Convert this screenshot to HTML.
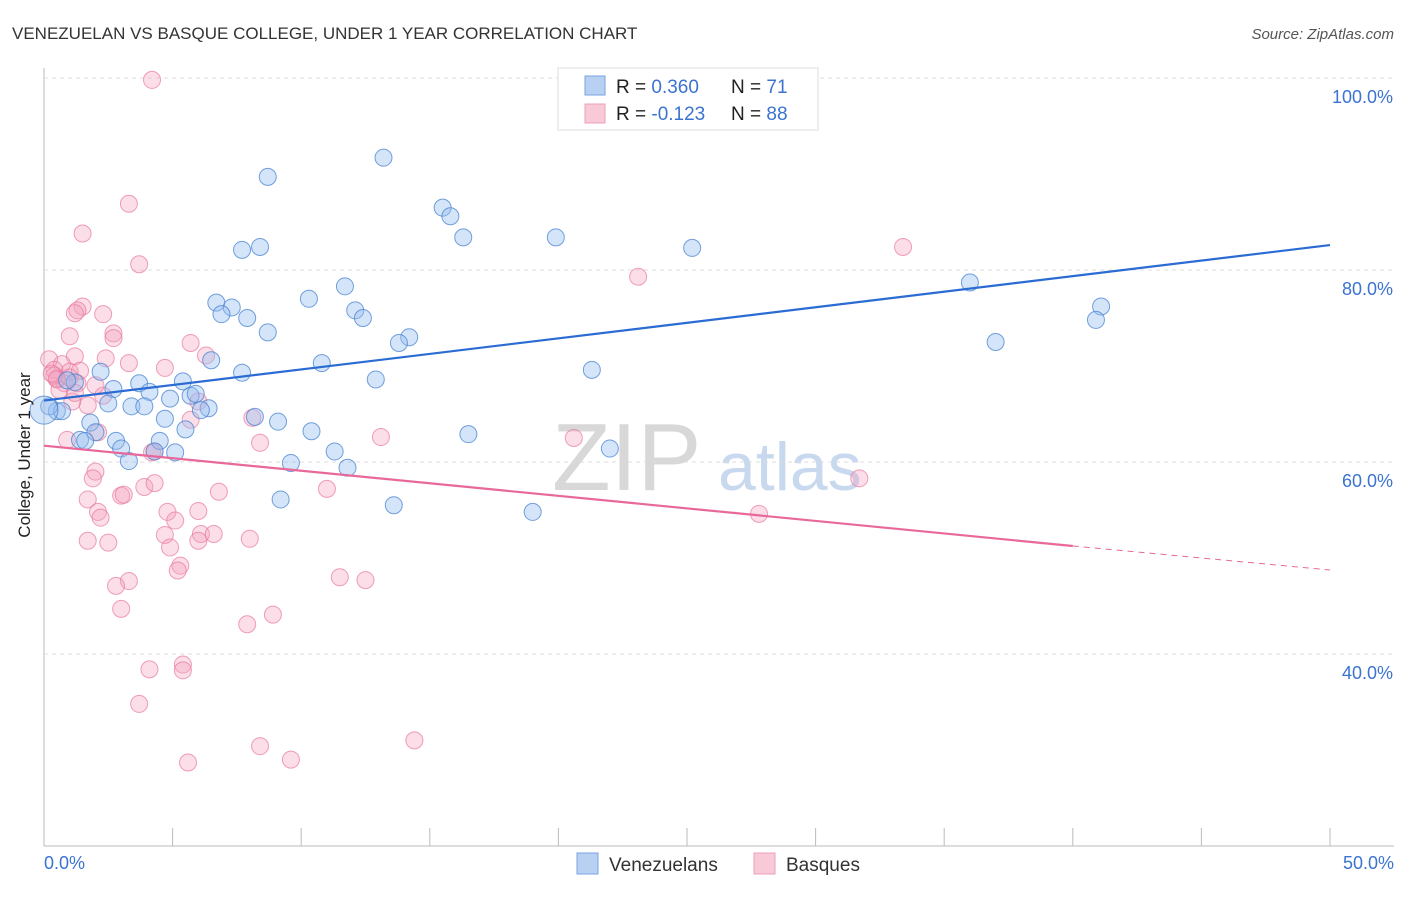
<!DOCTYPE html>
<html><head><meta charset="utf-8"><style>
body{margin:0;background:#fff;font-family:"Liberation Sans",sans-serif}
svg text{font-family:"Liberation Sans",sans-serif}
</style></head><body>
<svg id="c" width="1406" height="892" xmlns="http://www.w3.org/2000/svg">
<text x="12" y="39" font-size="17" fill="#333">VENEZUELAN VS BASQUE COLLEGE, UNDER 1 YEAR CORRELATION CHART</text>
<text x="1394" y="39" font-size="15" fill="#555" font-style="italic" text-anchor="end">Source: ZipAtlas.com</text>
<g><text x="552" y="490" font-size="96" fill="#d8d8d8" font-family="Liberation Serif">ZIP</text><text x="718" y="490" font-size="68" fill="#c8d8ee">atlas</text></g>
<g id="grid"></g><g id="pts"></g><g id="lines"></g>
<text x="30" y="455" font-size="17" fill="#222" transform="rotate(-90 30 455)" text-anchor="middle">College, Under 1 year</text>
<text x="44" y="869" font-size="18" fill="#3b73d1">0.0%</text>
<text x="1394" y="869" font-size="18" fill="#3b73d1" text-anchor="end">50.0%</text>
<g>
<rect x="558" y="68" width="260" height="62" fill="#fff" stroke="#ddd"/>
<rect x="585" y="76" width="20" height="19" fill="#b8d1f3" stroke="#7aa3e0"/>
<rect x="585" y="104" width="20" height="19" fill="#f8c9d7" stroke="#eea0b8"/>
<text x="616" y="93" font-size="19" fill="#222">R = <tspan fill="#3b73d1">0.360</tspan></text>
<text x="731" y="93" font-size="19" fill="#222">N = <tspan fill="#3b73d1"> 71</tspan></text>
<text x="616" y="120" font-size="19" fill="#222">R = <tspan fill="#3b73d1">-0.123</tspan></text>
<text x="731" y="120" font-size="19" fill="#222">N = <tspan fill="#3b73d1">88</tspan></text>
</g>
<g>
<rect x="577" y="853" width="21" height="21" fill="#b8d1f3" stroke="#7aa3e0"/>
<text x="609" y="871" font-size="19" fill="#333">Venezuelans</text>
<rect x="754" y="853" width="21" height="21" fill="#f8c9d7" stroke="#eea0b8"/>
<text x="786" y="871" font-size="19" fill="#333">Basques</text>
</g>
</svg>
<script>
const yTicks=[40,60,80,100];
const yTickLabels=["40.0%","60.0%","80.0%","100.0%"];
const blueX=[13.2,8.7,15.5,15.8,16.3,19.9,25.2,7.7,8.4,36.0,41.1,40.9,37.0,11.7,10.3,6.7,7.3,6.9,7.9,8.7,12.1,12.4,14.2,13.8,10.8,21.3,6.5,7.7,12.9,2.2,1.2,3.7,2.7,5.4,4.1,4.9,5.7,5.9,2.5,3.4,3.9,6.4,6.1,0.5,0.7,0.2,4.7,8.2,9.1,1.8,2.0,5.5,10.4,16.5,1.4,1.6,2.8,4.5,3.0,4.3,5.1,3.3,22.0,11.3,9.6,11.8,9.2,13.6,19.0,0.0,0.9];
const blueY=[91.7,89.7,86.5,85.6,83.4,83.4,82.3,82.1,82.4,78.7,76.2,74.8,72.5,78.3,77.0,76.6,76.1,75.4,75.0,73.5,75.8,75.0,73.0,72.4,70.3,69.6,70.6,69.3,68.6,69.4,68.3,68.2,67.6,68.4,67.3,66.6,66.9,67.1,66.1,65.8,65.8,65.6,65.4,65.3,65.3,65.8,64.5,64.7,64.2,64.1,63.1,63.4,63.2,62.9,62.3,62.2,62.2,62.2,61.4,61.1,61.0,60.1,61.4,61.1,59.9,59.4,56.1,55.5,54.8,65.4,68.5];
const pinkX=[4.2,3.3,1.5,3.7,33.4,23.1,1.5,1.3,1.2,2.3,1.0,2.7,2.7,1.2,2.4,3.3,5.7,6.3,0.2,0.7,1.0,0.4,0.5,0.8,1.3,0.6,4.7,2.3,1.7,1.1,6.0,8.1,5.7,2.1,0.9,4.3,4.2,8.4,13.1,20.6,2.0,1.7,1.9,3.0,2.1,2.2,3.1,3.9,4.3,6.8,11.0,4.8,6.0,5.1,6.1,6.6,8.0,4.7,6.0,4.9,1.7,2.5,31.7,27.8,3.3,2.8,5.3,5.2,11.5,12.5,3.0,8.9,7.9,4.1,5.4,5.4,3.7,14.4,8.4,9.6,5.6,0.4,0.5,1.0,2.0,0.3,1.4,1.2];
const pinkY=[99.8,86.9,83.8,80.6,82.4,79.3,76.2,75.8,75.5,75.4,73.1,73.4,72.9,71.0,70.8,70.3,72.4,71.1,70.7,70.2,69.4,69.6,68.7,68.2,68.2,67.5,69.8,66.9,65.9,66.3,66.3,64.6,64.4,63.1,62.3,61.1,61.0,62.0,62.6,62.5,59.0,56.1,58.3,56.5,54.8,54.2,56.6,57.4,57.8,56.9,57.2,54.8,54.9,53.9,52.5,52.5,52.0,52.4,51.8,51.1,51.8,51.6,58.3,54.6,47.6,47.1,49.2,48.7,48.0,47.7,44.7,44.1,43.1,38.4,38.9,38.3,34.8,31.0,30.4,29.0,28.7,69.0,68.6,68.8,68.0,69.2,69.5,67.2];
const blueLine=[66.4,82.6]; // values at x=0 and x=50
const pinkLine=[61.7,51.25,48.75]; // at x=0, x=40, x=50
const NS="http://www.w3.org/2000/svg";
const sx=v=>44+v*25.72, sy=v=>78+(100-v)*9.6;
function mk(t,a,p){const e=document.createElementNS(NS,t);for(const k in a)e.setAttribute(k,a[k]);p.appendChild(e);return e;}
const grid=document.getElementById('grid');
mk('line',{x1:44,y1:68,x2:44,y2:846,stroke:'#bbb'},grid);
mk('line',{x1:44,y1:846,x2:1394,y2:846,stroke:'#bbb'},grid);
for(let i=0;i<=10;i++){const l=mk('line',{x1:sx(i*5),y1:828,x2:sx(i*5),y2:846,stroke:'#bbb'},grid);

}
yTicks.forEach((t,i)=>{const l=mk('line',{x1:44,y1:sy(t),x2:1394,y2:sy(t),stroke:'#ddd','stroke-dasharray':'4,4'},grid);


const tx=mk('text',{x:1393,y:sy(t)+25,'font-size':18,fill:'#3b73d1','text-anchor':'end'},grid);tx.textContent=yTickLabels[i];

});
const pts=document.getElementById('pts');
pinkX.forEach((x,i)=>{const c=mk('circle',{cx:sx(x),cy:sy(pinkY[i]),r:8.5,fill:'rgba(244,160,188,0.35)',stroke:'rgba(232,120,156,0.7)','stroke-width':1},pts);

});
blueX.forEach((x,i)=>{const c=mk('circle',{cx:sx(x),cy:sy(blueY[i]),r:(i==69?14:8.5),fill:'rgba(150,190,240,0.4)',stroke:'rgba(70,130,210,0.75)','stroke-width':1},pts);

});
const L=document.getElementById('lines');
const b=mk('line',{x1:sx(0),y1:sy(blueLine[0]),x2:sx(50),y2:sy(blueLine[1]),stroke:'#2a6bd4','stroke-width':2.2},L);


const p=mk('line',{x1:sx(0),y1:sy(pinkLine[0]),x2:sx(40),y2:sy(pinkLine[1]),stroke:'#e8689a','stroke-width':2.2},L);


const pd=mk('line',{x1:sx(40),y1:sy(pinkLine[1]),x2:sx(50),y2:sy(pinkLine[2]),stroke:'#e8689a','stroke-width':1,'stroke-dasharray':'6,5'},L);


</script>
</body></html>
